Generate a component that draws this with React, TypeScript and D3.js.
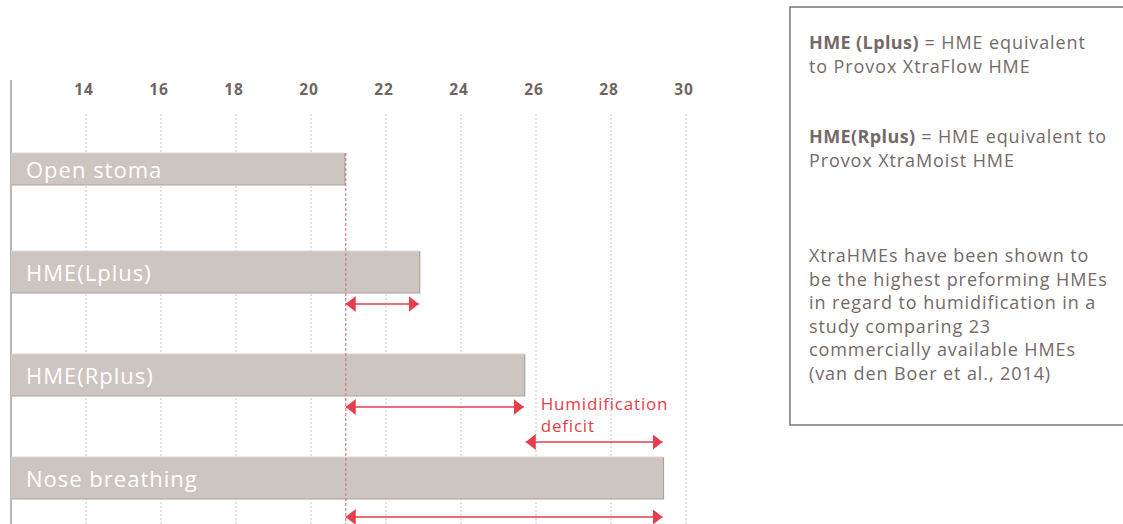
import React, { useRef, useEffect } from "react";
import * as d3 from "d3";

const categories = ["Open stoma", "HME(Lplus)", "HME(Rplus)", "Nose breathing"];
const values = [20.9, 22.9, 25.7, 29.4];
const xTicks = [14, 16, 18, 20, 22, 24, 26, 28, 30];
// deficit arrows: [from category, to category]
const deficits: [number, number][] = [[0, 1], [0, 2], [2, 3], [0, 3]];
const deficitLabel = ["Humidification", "deficit"];

const boxLines1 = [["HME (Lplus)", " = HME equivalent"], ["", "to Provox XtraFlow HME"]];
const boxLines2 = [["HME(Rplus)", " = HME equivalent to"], ["", "Provox XtraMoist HME"]];
const boxLines3 = [
  "XtraHMEs have been shown to",
  "be the highest preforming HMEs",
  "in regard to humidification in a",
  "study comparing 23",
  "commercially available HMEs",
  "(van den Boer et al., 2014)",
];

const W = 1123;
const H = 524;
const FONT = "'Open Sans', 'DejaVu Sans', sans-serif";
const RED = "#e63e4b";
const GREY_TEXT = "#746a67";

export default function App() {
  const svgRef = useRef<SVGSVGElement>(null);

  useEffect(() => {
    if (!svgRef.current) return;
    const svg = d3.select(svgRef.current);
    svg.selectAll("*").remove();

    const x = d3.scaleLinear().domain([12, 30]).range([11, 686]);
    const y = d3.scalePoint<string>().domain(categories).range([169, 478]);
    const barH = 42;

    const defs = svg.append("defs");
    ["start", "end"].forEach(k => {
      defs.append("marker")
        .attr("id", "arr-" + k)
        .attr("viewBox", "0 0 10 16")
        .attr("refX", k === "end" ? 10 : 0)
        .attr("refY", 8)
        .attr("markerWidth", 10)
        .attr("markerHeight", 16)
        .attr("markerUnits", "userSpaceOnUse")
        .attr("orient", "auto")
        .append("path")
        .attr("d", k === "end" ? "M0,0 L10,8 L0,16 Z" : "M10,0 L0,8 L10,16 Z")
        .attr("fill", RED);
    });

    // grid lines
    svg.append("g")
      .selectAll("line")
      .data(xTicks)
      .enter()
      .append("line")
      .attr("x1", d => x(d))
      .attr("x2", d => x(d))
      .attr("y1", 114)
      .attr("y2", H)
      .attr("stroke", "#c8c8c8")
      .attr("stroke-width", 1)
      .attr("stroke-dasharray", "2,2");

    // tick labels
    svg.append("g")
      .selectAll("text")
      .data(xTicks)
      .enter()
      .append("text")
      .attr("x", d => x(d) - 2)
      .attr("y", 95)
      .attr("text-anchor", "middle")
      .attr("font-family", FONT)
      .attr("font-weight", 700)
      .attr("font-size", 15.5)
      .attr("letter-spacing", 0.8)
      .attr("fill", "#6f6663")
      .text(d => d);

    // left axis line
    svg.append("line")
      .attr("x1", 11).attr("x2", 11)
      .attr("y1", 80).attr("y2", H)
      .attr("stroke", "#a5a0a0")
      .attr("stroke-width", 1.5);

    // bars
    const bars = svg.append("g")
      .selectAll("g")
      .data(categories)
      .enter()
      .append("g");

    const hOf = (i: number) => (i === 0 ? 32 : barH);

    bars.append("rect")
      .attr("x", x(12))
      .attr("y", (d, i) => (y(d) || 0) - hOf(i) / 2)
      .attr("width", (d, i) => x(values[i]) - x(12))
      .attr("height", (d, i) => hOf(i))
      .attr("fill", "#cdc5c0");

    // darker bottom/right edges
    bars.append("path")
      .attr("d", (d, i) => {
        const top = (y(d) || 0) - hOf(i) / 2;
        const bot = top + hOf(i);
        const r = x(values[i]);
        return `M${r},${top} L${r},${bot} L${x(12)},${bot}`;
      })
      .attr("fill", "none")
      .attr("stroke", "#a9a4a2")
      .attr("stroke-width", 1.2);

    bars.append("path")
      .attr("d", (d, i) => {
        const top = (y(d) || 0) - hOf(i) / 2;
        return `M${x(12)},${top} L${x(values[i])},${top}`;
      })
      .attr("stroke", "#dcd7d4")
      .attr("stroke-width", 1);

    bars.append("text")
      .attr("x", 26)
      .attr("y", d => (y(d) || 0) + 9)
      .attr("font-family", FONT)
      .attr("font-size", 22)
      .attr("letter-spacing", 1)
      .attr("fill", "#ffffff")
      .text(d => d);

    // reference dashed line at open stoma
    svg.append("line")
      .attr("x1", x(values[0]) + 1)
      .attr("x2", x(values[0]) + 1)
      .attr("y1", (y(categories[0]) || 0) - 16)
      .attr("y2", H)
      .attr("stroke", "#d77a82")
      .attr("stroke-width", 1.2)
      .attr("stroke-dasharray", "3,2");

    // deficit arrows
    const arrowY = (a: number, b: number) => {
      const cb = y(categories[b]) || 0;
      if (a === 0) return cb + (b === 3 ? 39 : 32);
      return cb - 36;
    };

    svg.append("g")
      .selectAll("line")
      .data(deficits)
      .enter()
      .append("line")
      .attr("x1", d => x(values[d[0]]) + 1)
      .attr("x2", d => x(values[d[1]]) - 1)
      .attr("y1", d => arrowY(d[0], d[1]))
      .attr("y2", d => arrowY(d[0], d[1]))
      .attr("stroke", RED)
      .attr("stroke-width", 1.5)
      .attr("marker-start", "url(#arr-start)")
      .attr("marker-end", "url(#arr-end)");

    svg.append("g")
      .selectAll("text")
      .data(deficitLabel)
      .enter()
      .append("text")
      .attr("x", x(values[2]) + 16)
      .attr("y", (d, i) => 410 + i * 22)
      .attr("font-family", FONT)
      .attr("font-size", 17)
      .attr("letter-spacing", 0.8)
      .attr("fill", RED)
      .text(d => d);

    // info box
    svg.append("rect")
      .attr("x", 790)
      .attr("y", 7)
      .attr("width", 345)
      .attr("height", 418)
      .attr("fill", "none")
      .attr("stroke", "#7b7371")
      .attr("stroke-width", 1.5);

    const box = svg.append("g")
      .attr("font-family", FONT)
      .attr("font-size", 18)
      .attr("letter-spacing", 0.9)
      .attr("fill", GREY_TEXT);

    const addRich = (lines: string[][], y0: number) => {
      lines.forEach((ln, i) => {
        const t = box.append("text").attr("x", 809).attr("y", y0 + i * 24);
        if (ln[0]) t.append("tspan").attr("font-weight", 700).attr("letter-spacing", 0.4).text(ln[0]);
        t.append("tspan").text(ln[1]);
      });
    };
    addRich(boxLines1, 49);
    addRich(boxLines2, 143);
    boxLines3.forEach((ln, i) => {
      box.append("text")
        .attr("x", 809)
        .attr("y", 262 + i * 23.6)
        .text(ln);
    });
  }, []);

  return (
    <div style={{ position: "absolute", left: 0, top: 0, width: W, height: H, background: "#fff" }}>
      <svg ref={svgRef} width={W} height={H} />
    </div>
  );
}
